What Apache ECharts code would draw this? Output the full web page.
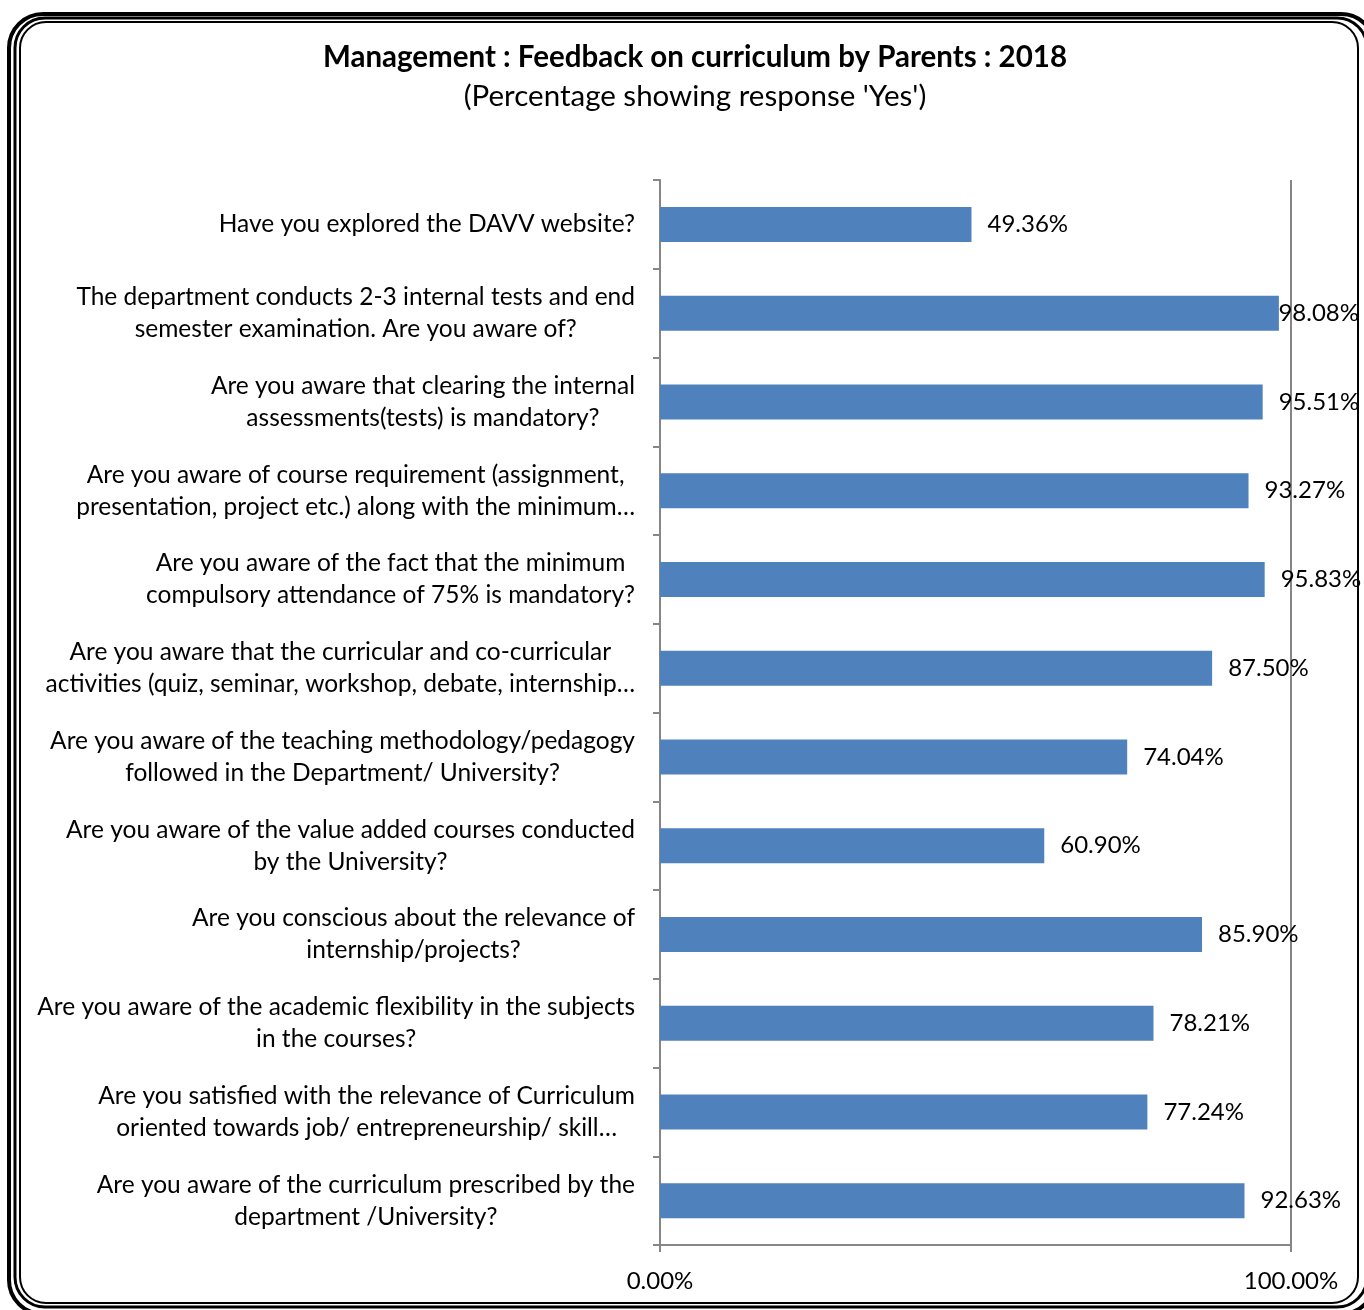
<!DOCTYPE html>
<html>
<head>
<meta charset="utf-8">
<script src="https://cdn.jsdelivr.net/npm/echarts@6/dist/echarts.min.js"></script>
<style>
  html, body { margin: 0; padding: 0; background: #fff; }
  #chart { width: 1364px; height: 1310px; }
</style>
</head>
<body>
<div id="chart"></div>
<script>
// questions, top to bottom as shown
var questions = [
  "Have you explored the DAVV website?",
  "The department conducts 2-3 internal tests and end\nsemester examination. Are you aware of?",
  "Are you aware that clearing the internal\nassessments(tests) is mandatory?",
  "Are you aware of course requirement (assignment,\npresentation, project etc.) along with the minimum…",
  "Are you aware of the fact that the minimum\ncompulsory attendance of 75% is mandatory?",
  "Are you aware that the curricular and co-curricular\nactivities (quiz, seminar, workshop, debate, internship…",
  "Are you aware of the teaching methodology/pedagogy\nfollowed in the Department/ University?",
  "Are you aware of the value added courses conducted\nby the University?",
  "Are you conscious about the relevance of\ninternship/projects?",
  "Are you aware of the academic flexibility in the subjects\nin the courses?",
  "Are you satisfied with the relevance of Curriculum\noriented towards job/ entrepreneurship/ skill…",
  "Are you aware of the curriculum prescribed by the\ndepartment /University?"
];
// percentage answering 'Yes'
var yesPct = [49.36, 98.08, 95.51, 93.27, 95.83, 87.50, 74.04, 60.90, 85.90, 78.21, 77.24, 92.63];

var xMin = 0, xMax = 100;

var font = "Lato, 'Open Sans', sans-serif";
var axisGray = "#868686";

var myChart = echarts.init(document.getElementById("chart"));
var option = {
  animation: false,
  textStyle: { fontFamily: font },
  title: {
    text: "Management : Feedback on curriculum by Parents : 2018",
    subtext: "(Percentage showing response 'Yes')",
    left: 690,
    textAlign: "center",
    top: 37,
    itemGap: 9,
    textStyle: { fontFamily: font, fontSize: 29.5, fontWeight: "bold", color: "#000" },
    subtextStyle: { fontFamily: font, fontSize: 29.5, color: "#000" }
  },
  grid: { left: 660, right: 73, top: 180, bottom: 65, containLabel: false },
  xAxis: {
    type: "value",
    min: xMin,
    max: xMax,
    interval: 100,
    axisLine: { show: true, lineStyle: { color: axisGray, width: 2 } },
    axisTick: { show: true, length: 7, lineStyle: { color: axisGray, width: 2 } },
    splitLine: { show: true, lineStyle: { color: axisGray, width: 2 } },
    axisLabel: {
      margin: 24,
      fontSize: 24,
      color: "#000",
      formatter: function (v) { return v.toFixed(2) + "%"; }
    }
  },
  yAxis: {
    type: "category",
    inverse: true,
    data: questions,
    axisLine: { show: true, lineStyle: { color: axisGray, width: 2 } },
    axisTick: { show: true, length: 7, lineStyle: { color: axisGray, width: 2 } },
    axisLabel: {
      margin: 25,
      fontSize: 24.5,
      lineHeight: 32,
      color: "#000",
      align: "right",
      // lines centred on each other, block anchored to the axis
      formatter: function (v) {
        return v.split("\n").map(function (s) { return "{c|" + s + "}"; }).join("\n");
      },
      rich: {
        c: { align: "center", fontSize: 24.5, lineHeight: 32, color: "#000", fontFamily: font }
      }
    }
  },
  series: [
    {
      type: "bar",
      data: yesPct,
      barWidth: 35,
      itemStyle: { color: "#4F81BD" },
      label: {
        show: true,
        position: "right",
        distance: 16,
        fontSize: 24,
        color: "#000",
        formatter: function (p) { return p.value.toFixed(2) + "%"; }
      },
      // keep a label inside the frame when it would run off the right edge
      labelLayout: function (params) {
        var r = params.labelRect;
        if (r.x + r.width > 1362) {
          return { x: 1359 - r.width, y: r.y, align: "left", verticalAlign: "top" };
        }
        return {};
      }
    }
  ],
  graphic: [
    { type: "rect", shape: { x: 9, y: 14, width: 1366, height: 1300, r: 34 }, style: { fill: null, stroke: "#000", lineWidth: 4 }, z: 100 },
    { type: "rect", shape: { x: 15, y: 18, width: 1352, height: 1289, r: 30 }, style: { fill: null, stroke: "#000", lineWidth: 3 }, z: 100 },
    { type: "rect", shape: { x: 20, y: 22, width: 1338, height: 1281, r: 26 }, style: { fill: null, stroke: "#000", lineWidth: 2 }, z: 100 }
  ]
};
myChart.setOption(option, true);
window.addEventListener("resize", function () {
  myChart.resize();
});
</script>
</body>
</html>
